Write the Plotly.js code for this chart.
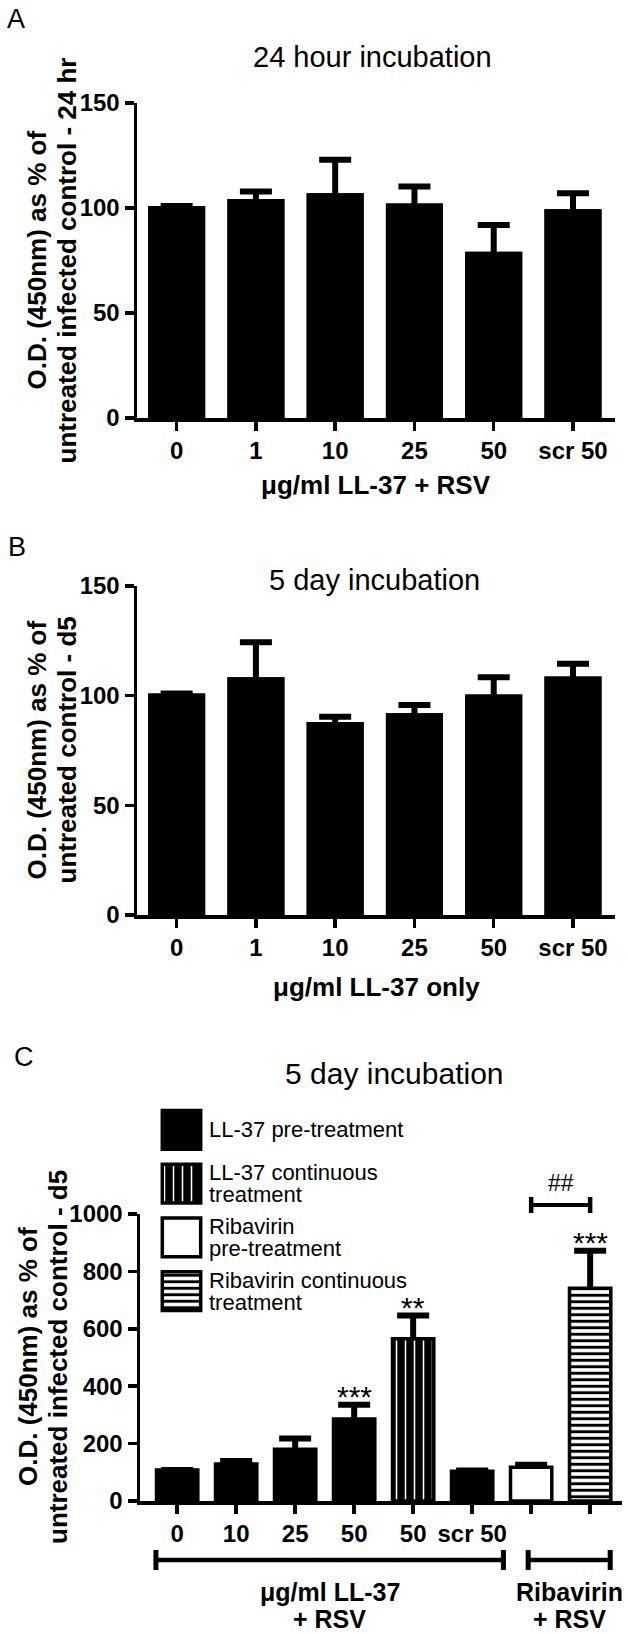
<!DOCTYPE html>
<html>
<head>
<meta charset="utf-8">
<script src="https://cdn.plot.ly/plotly-3.0.1.min.js"></script>
<style>
html,body{margin:0;padding:0;background:#fff;}
#chart{width:628px;height:1634px;}
</style>
</head>
<body>
<div id="chart"></div>
<script>
// ---------- DATA ----------
// Panel A : 24 hour incubation, LL-37 + RSV
const catsA = ['0', '1', '10', '25', '50', 'scr 50'];
const valsA = [101, 104.3, 107, 102.2, 79.2, 99.4];
const errA  = [NaN, 3.5, 16, 8, 12.7, 7.6];

// Panel B : 5 day incubation, LL-37 only
const catsB = ['0', '1', '10', '25', '50', 'scr 50'];
const valsB = [101, 108.4, 88, 92, 100.5, 108.7];
const errB  = [NaN, 16, 2.4, 3.7, 7.9, 5.9];

// Panel C : 5 day incubation, LL-37 / Ribavirin + RSV
const catsC  = ['0', '10', '25', '50', '50', 'scr 50', '', ''];
const valsC  = [108, 129, 180, 286, 565, 103.5, 118, 741];
const errC   = [NaN, 10, 38, 49, 81, 2.5, 8, 131];
const starsC = ['', '', '', '***', '**', '', '', '***'];
const groupC = ['pre', 'pre', 'pre', 'pre', 'cont', 'pre', 'ribpre', 'ribcont'];

const legendNames  = ['LL-37 pre-treatment', 'LL-37 continuous<br>treatment',
                      'Ribavirin<br>pre-treatment', 'Ribavirin continuous<br>treatment'];
const legendGroups = ['pre', 'cont', 'ribpre', 'ribcont'];

const groupLabelsC  = ['\u03bcg/ml LL-37', 'Ribavirin'];
const groupLabelsC2 = ['+ RSV', '+ RSV'];

// ---------- STYLE ----------
const FONT = 'Liberation Sans, Arial, Helvetica, sans-serif';
const W = 628, H = 1634;
const px = v => v / W;
const py = v => 1 - v / H;

const STYLE = {
  pre:     {color: 'black', pattern: null},
  cont:    {color: 'black', pattern: {shape: '|', fgcolor: 'white', bgcolor: 'black', size: 9, solidity: 0.17, fillmode: 'replace'}},
  ribpre:  {color: 'white', pattern: null},
  ribcont: {color: 'white', pattern: {shape: '-', fgcolor: 'black', bgcolor: 'white', size: 6.5, solidity: 0.45, fillmode: 'replace'}}
};

function markerFor(g, lineW) {
  const m = {color: STYLE[g].color, line: {color: 'black', width: lineW}};
  if (STYLE[g].pattern) m.pattern = STYLE[g].pattern;
  return m;
}

function barSet(cats, vals, errs, xa, ya, groups, width, lineW) {
  const xs = cats.map((c, i) => i);
  const traces = [{
    type: 'bar', x: xs, y: vals, xaxis: xa, yaxis: ya, width: width,
    marker: {color: 'black', line: {width: 0}},
    error_y: {type: 'data', symmetric: false, array: errs,
              arrayminus: vals.map(v => v / 2),
              color: 'black', thickness: 6, width: 16},
    showlegend: false, hoverinfo: 'skip'
  }];
  const uniq = groups.filter((g, i) => groups.indexOf(g) === i);
  uniq.forEach(g => {
    const ii = xs.filter(i => groups[i] === g);
    traces.push({
      type: 'bar', x: ii, y: ii.map(i => vals[i]), xaxis: xa, yaxis: ya, width: width,
      marker: markerFor(g, lineW), showlegend: false, hoverinfo: 'skip'
    });
  });
  return traces;
}

function axisBase(extra) {
  return Object.assign({
    showline: true, linecolor: 'black', linewidth: 3.5,
    ticks: 'outside', ticklen: 9, tickwidth: 3.5, tickcolor: 'black',
    showgrid: false, zeroline: false, fixedrange: true,
    tickfont: {family: FONT, size: 24, color: 'black', weight: 700}
  }, extra);
}

const data = []
  .concat(barSet(catsA, valsA, errA, 'x', 'y', catsA.map(() => 'pre'), 0.72, 0))
  .concat(barSet(catsB, valsB, errB, 'x2', 'y2', catsB.map(() => 'pre'), 0.72, 0))
  .concat(barSet(catsC, valsC, errC, 'x3', 'y3', groupC, 0.7, 3.5));

// legend swatches (mini subplot, one bar per legend entry)
legendGroups.forEach((g, i) => {
  data.push({
    type: 'bar', orientation: 'h', y: [i], x: [1], base: 0, name: legendNames[i],
    xaxis: 'x4', yaxis: 'y4', width: 0.72,
    marker: markerFor(g, 3.5), showlegend: false, hoverinfo: 'skip'
  });
});

// ---------- ANNOTATIONS ----------
const ann = [];
function txt(x, y, text, size, opts) {
  ann.push(Object.assign({
    xref: 'paper', yref: 'paper', x: x, y: y, text: text, showarrow: false,
    xanchor: 'center', yanchor: 'middle',
    font: {family: FONT, size: size, color: 'black'}
  }, opts || {}));
}
const boldF = s => ({family: FONT, size: s, color: 'black', weight: 700});
// panel letters
txt(px(5), py(19), 'A', 27, {xanchor: 'left'});
txt(px(6), py(547), 'B', 27, {xanchor: 'left'});
txt(px(12), py(1057), 'C', 27, {xanchor: 'left'});
// titles
txt(px(372), py(57), '24 hour incubation', 29);
txt(px(374), py(580), '5 day incubation', 29);
txt(px(394), py(1073), '5 day incubation', 30);
// y titles (two lines each)
function ytitle(xc1, xc2, yc, l1, l2) {
  txt(px(xc1), py(yc), l1, 26, {textangle: -90, font: boldF(26)});
  txt(px(xc2), py(yc), l2, 26, {textangle: -90, font: boldF(26)});
}
ytitle(37, 67, 260.5, 'O.D. (450nm) as % of', 'untreated infected control - 24 hr');
ytitle(37, 67, 750.5, 'O.D. (450nm) as % of', 'untreated control - d5');
ytitle(28, 58, 1357, 'O.D. (450nm) as % of', 'untreated infected control - d5');
// x titles
txt(px(376), py(485), '\u03bcg/ml LL-37 + RSV', 26, {font: boldF(26)});
txt(px(376), py(987), '\u03bcg/ml LL-37 only', 26, {font: boldF(26)});

// legend texts, positioned on the swatch rows through the mini axis
legendNames.forEach((name, i) => {
  const lines = name.split('<br>');
  lines.forEach((ln, k) => {
    ann.push({xref: 'paper', yref: 'y4', x: px(207), y: i, text: ln, showarrow: false,
              xanchor: 'left', yanchor: 'middle',
              yshift: (lines.length - 1) * 11 - k * 22,
              font: {family: FONT, size: 22, color: 'black'}});
  });
});

// stars in C
starsC.forEach((s, i) => {
  if (!s) return;
  ann.push({xref: 'x3', yref: 'y3', x: i, y: valsC[i] + errC[i], text: s,
            showarrow: false, yanchor: 'bottom', yshift: -10,
            font: {family: FONT, size: 30, color: 'black'}});
});
// ## label
ann.push({xref: 'x3', yref: 'paper', x: 6.5, y: py(1183), text: '##', showarrow: false,
          xanchor: 'center', yanchor: 'middle', font: {family: FONT, size: 23, color: 'black'}});
// group labels under C
const groupSpan = [[-0.36, 5.53], [5.95, 7.34]];
groupLabelsC.forEach((t, k) => {
  const xc = (groupSpan[k][0] + groupSpan[k][1]) / 2;
  ann.push({xref: 'x3', yref: 'paper', x: xc, y: py(1592), text: t, showarrow: false,
            xanchor: 'center', yanchor: 'middle', font: boldF(25)});
  ann.push({xref: 'x3', yref: 'paper', x: xc, y: py(1619), text: groupLabelsC2[k], showarrow: false,
            xanchor: 'center', yanchor: 'middle', font: boldF(25)});
});

// ---------- SHAPES ----------
const shapes = [];
function hbracket(x0, x1, yPix, capHalf, w) {
  shapes.push({type: 'line', xref: 'x3', yref: 'paper', x0: x0, x1: x1,
               y0: py(yPix), y1: py(yPix), line: {color: 'black', width: w}});
  [x0, x1].forEach(xx => shapes.push({type: 'line', xref: 'x3', yref: 'paper',
    x0: xx, x1: xx, y0: py(yPix - capHalf), y1: py(yPix + capHalf),
    line: {color: 'black', width: w + 0.5}}));
}
groupSpan.forEach(s => hbracket(s[0], s[1], 1560, 10, 4.5));
hbracket(6, 7, 1205, 8, 4);

// ---------- LAYOUT ----------
const idx = a => a.map((c, i) => i);
const layout = {
  width: W, height: H,
  margin: {l: 0, r: 0, t: 0, b: 0},
  paper_bgcolor: 'white', plot_bgcolor: 'white',
  barmode: 'overlay', showlegend: false, hovermode: false,
  font: {family: FONT, color: 'black'},
  xaxis: axisBase({domain: [px(137), px(615)], range: [-0.5, 5.53], anchor: 'y',
                   tickvals: idx(catsA), ticktext: catsA}),
  yaxis: axisBase({domain: [py(418), py(103)], range: [0, 150], dtick: 50, tick0: 0, anchor: 'x'}),
  xaxis2: axisBase({domain: [px(137), px(615)], range: [-0.5, 5.53], anchor: 'y2',
                    tickvals: idx(catsB), ticktext: catsB}),
  yaxis2: axisBase({domain: [py(915), py(586)], range: [0, 150], dtick: 50, tick0: 0, anchor: 'x2'}),
  xaxis3: axisBase({domain: [px(140), px(622)], range: [-0.63, 7.54], anchor: 'y3',
                    tickvals: idx(catsC), ticktext: catsC}),
  yaxis3: axisBase({domain: [py(1501), py(1214)], range: [0, 1000], dtick: 200, tick0: 0, anchor: 'x3'}),
  xaxis4: {domain: [px(160), px(203)], range: [-0.06, 1.06], visible: false, fixedrange: true, anchor: 'y4'},
  yaxis4: {domain: [py(1318), py(1103)], range: [3.5, -0.5], anchor: 'x4',
           showline: false, showgrid: false, zeroline: false, ticks: '', fixedrange: true,
           showticklabels: false},
  annotations: ann,
  shapes: shapes
};

Plotly.newPlot('chart', data, layout, {displayModeBar: false, staticPlot: true});
</script>
</body>
</html>
